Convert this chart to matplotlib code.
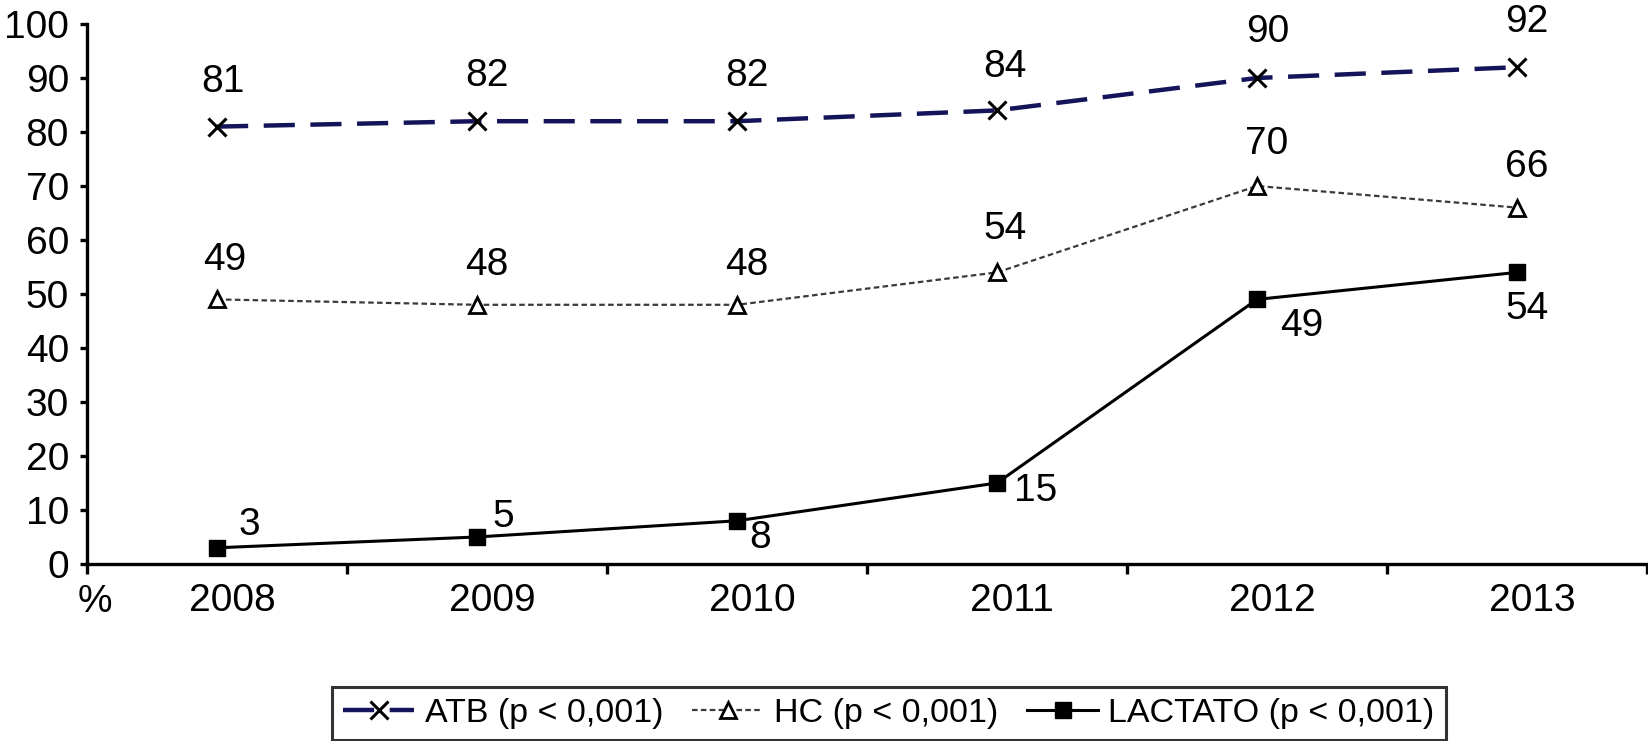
import numpy as np
import matplotlib
matplotlib.use("Agg")
import matplotlib.pyplot as plt
import matplotlib.transforms as mtransforms

plt.rcParams['font.family'] = ['Liberation Sans', 'DejaVu Sans']

# data
years = ['2008', '2009', '2010', '2011', '2012', '2013']
atb = [81, 82, 82, 84, 90, 92]
hc = [49, 48, 48, 54, 70, 66]
lactato = [3, 5, 8, 15, 49, 54]
labels = ['ATB (p < 0,001)', 'HC (p < 0,001)', 'LACTATO (p < 0,001)']

# label offsets in pixels (dx, dy)
off_atb = [(6, 45), (10, 45), (10, 45), (8, 43), (11, 46), (10, 45)]
off_hc = [(8, 39), (10, 40), (10, 40), (8, 43), (10, 42), (10, 41)]
off_lac = [(32, 23), (26, 20), (23, -17), (39, -8), (45, -27), (10, -37)]

fig = plt.figure(figsize=(16.49, 7.41), dpi=100)
ax = fig.add_axes([0.0528, 0.2389, 0.946, 0.7287])

x = np.arange(len(years))

l1, = ax.plot(x, atb, color='#14145a', lw=3.2, dashes=(7, 3.5),
              marker='x', ms=13, mew=2.2, mec='black', label=labels[0])
l2, = ax.plot(x, hc, color='#3a3a3a', lw=1.6, dashes=(2.5, 1.5),
              marker='^', ms=11, mfc='white', mec='black', mew=2, label=labels[1])
l3, = ax.plot(x, lactato, color='black', lw=2.2, ls='-',
              marker='s', ms=11, mfc='black', mec='black', label=labels[2])

for series, offs in [(atb, off_atb), (hc, off_hc), (lactato, off_lac)]:
    for i, v in enumerate(series):
        ax.annotate(str(v), (x[i], v), xytext=offs[i], textcoords='offset pixels',
                    ha='center', va='center', fontsize=28)

ax.set_xlim(-0.5, len(years) - 0.5)
ax.set_ylim(0, 100)
ax.set_yticks(np.arange(0, 101, 10))
ax.set_xticks(x)
ax.set_xticklabels(years)
ax.set_xticks(np.arange(-0.5, len(years), 1), minor=True)

for s in ['top', 'right']:
    ax.spines[s].set_visible(False)
for s in ['left', 'bottom']:
    ax.spines[s].set_linewidth(2.4)

ax.tick_params(axis='y', which='major', length=5, width=2.4, pad=8, labelsize=28)
ax.tick_params(axis='x', which='major', length=0, pad=14, labelsize=28)
ax.tick_params(axis='x', which='minor', length=7, width=2.4)

shift = mtransforms.ScaledTranslation(15 / 100, 0, fig.dpi_scale_trans)
for lab in ax.get_xticklabels():
    lab.set_transform(lab.get_transform() + shift)

fig.text(0.0576, 0.1876, '%', fontsize=28, ha='center', va='center')

leg = fig.legend(handles=[l1, l2, l3], loc='center', bbox_to_anchor=(0.539, 0.037),
                 ncol=3, fontsize=24.5, frameon=True, fancybox=False,
                 handlelength=2.1, handletextpad=0.3, columnspacing=0.85,
                 borderpad=0.32, borderaxespad=0)
leg.get_frame().set_edgecolor('black')
leg.get_frame().set_linewidth(2.2)

fig.savefig('out.png', dpi=100)
